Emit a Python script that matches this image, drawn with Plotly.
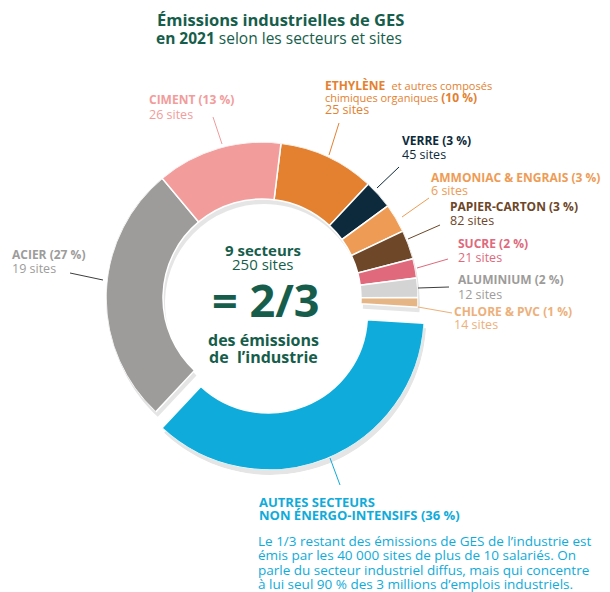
import plotly.graph_objects as go

# page has an 8px body margin, so the figure is drawn 8px in from the corner
W, H = 610, 592
OFF = 8
FW, FH = W - OFF, H - OFF

# data (clockwise from just right of 12 o'clock)
sectors = ["ETHYLÈNE", "VERRE", "AMMONIAC & ENGRAIS", "PAPIER-CARTON", "SUCRE",
           "ALUMINIUM", "CHLORE & PVC", "AUTRES SECTEURS NON ÉNERGO-INTENSIFS",
           "ACIER", "CIMENT"]
shares = [10, 3, 3, 3, 2, 2, 1, 36, 27, 13]
sites = [25, 45, 6, 82, 21, 12, 14, None, 19, 26]
colors = ["#E38131", "#0C2A3B", "#EE9C55", "#6E4628", "#E0697C",
          "#D4D4D4", "#E6B586", "#0FABDA", "#9D9C9A", "#F29C9B"]
text_colors = ["#E38131", "#0C2A3B", "#EE9C55", "#6E4628", "#E0697C",
               "#9D9C9A", "#EDB07A", "#0FABDA", "#9D9C9A", "#F29C9B"]
green = "#165E4B"

# angles
widths = [s * 3.6 for s in shares]
thetas = []
acc = 0
for w in widths:
    thetas.append(acc + w / 2)
    acc += w

R_IN, R_OUT = 99, 156
CX, CY = 262, 298
EXPLODE = (6.4, 16)   # blue slice pulled out


def px(x, y):
    return (x - OFF) / FW, 1 - (y - OFF) / FH


def dom(cx, cy, r):
    x0, y0 = px(cx - r, cy + r)
    x1, y1 = px(cx + r, cy - r)
    return dict(x=[x0, x1], y=[y0, y1])


main = [i for i in range(len(sectors)) if i != 7]
blue = [7]

fig = go.Figure()


def add_ring(idx, subplot, col=None):
    fig.add_trace(go.Barpolar(
        theta=[thetas[i] for i in idx],
        width=[widths[i] for i in idx],
        r=[R_OUT - R_IN for i in idx],
        base=[R_IN for i in idx],
        marker=dict(color=col if col else [colors[i] for i in idx],
                    line=dict(color="white", width=1.5 if col is None else 0)),
        hoverinfo="skip",
        subplot=subplot,
        showlegend=False,
    ))


# soft shadows first, then the slices
add_ring(main, "polar", col="rgba(0,0,0,0.10)")
add_ring(blue, "polar2", col="rgba(0,0,0,0.10)")
add_ring(main, "polar3")
add_ring(blue, "polar4")

polar_common = dict(
    bgcolor="rgba(0,0,0,0)",
    radialaxis=dict(visible=False, range=[0, R_OUT]),
    angularaxis=dict(visible=False, rotation=83, direction="clockwise"),
)
fig.update_layout(
    polar=dict(domain=dom(CX + 2, CY + 5, R_OUT), **polar_common),
    polar2=dict(domain=dom(CX + EXPLODE[0] + 2, CY + EXPLODE[1] + 5, R_OUT), **polar_common),
    polar3=dict(domain=dom(CX, CY, R_OUT), **polar_common),
    polar4=dict(domain=dom(CX + EXPLODE[0], CY + EXPLODE[1], R_OUT), **polar_common),
)

ann = []


def text(x, y, s, size, color, anchor="left"):
    xx, yy = px(x, y)
    ann.append(dict(x=xx, y=yy, xref="paper", yref="paper", text=s, showarrow=False,
                    xanchor=anchor, yanchor="middle", align=anchor, borderpad=0,
                    font=dict(size=size, color=color, family="Open Sans")))


# title
text(280, 20, "<b>Émissions industrielles de GES</b>", 16.5, green, anchor="center")
text(279, 38, "<b>en 2021</b> selon les secteurs et sites", 15.5, green, anchor="center")

# sector labels: index -> (x, y of name line, y of sites line)
label_pos = {9: (148, 100, 114.5), 1: (401, 141, 154.5), 2: (430, 177, 190.5),
             3: (449, 207, 220.5), 4: (457, 243, 257.5), 5: (457, 279, 294),
             6: (453, 311, 324.5), 8: (11, 255, 268.5)}
for i, (x, y1, y2) in label_pos.items():
    text(x, y1, f"<b>{sectors[i]} ({shares[i]} %)</b>", 12, text_colors[i])
    text(x, y2, f"{sites[i]} sites", 12.5, text_colors[i])

text(324, 85, f"<b>{sectors[0]}</b>  <span style='font-size:11px'>et autres composés</span>",
     12, text_colors[0])
text(324, 97, f"<span style='font-size:11px'>chimiques organiques</span> <b>({shares[0]} %)</b>",
     12, text_colors[0])
text(324, 109.5, f"{sites[0]} sites", 12.5, text_colors[0])

text(258, 501.5, "<b>AUTRES SECTEURS</b>", 13, text_colors[7])
text(258, 515.5, f"<b>NON ÉNERGO-INTENSIFS ({shares[7]} %)</b>", 13, text_colors[7])
para = ["Le 1/3 restant des émissions de GES de l’industrie est",
        "émis par les 40 000 sites de plus de 10 salariés. On",
        "parle du secteur industriel diffus, mais qui concentre",
        "à lui seul 90 % des 3 millions d’emplois industriels."]
for k, line in enumerate(para):
    text(257, 541 + k * 14.4, line, 13.5, text_colors[7])

# centre
text(262.5, 249.5, "<b>9 secteurs</b>", 15, green, anchor="center")
text(262.5, 264, "250 sites", 15, green, anchor="center")
text(265, 299, "<b>= 2/3</b>", 45, green, anchor="center")
text(263, 340, "<b>des émissions</b>", 16, green, anchor="center")
text(263, 357, "<b>de  l’industrie</b>", 16, green, anchor="center")

# leader lines
leaders = [(9, 213, 117, 222, 144), (0, 339, 123, 329, 155), (1, 399, 167, 377, 188),
           (2, 429, 198, 402, 217), (3, 440, 225, 408, 239), (4, 448, 259, 417, 268),
           (5, 449, 287, 418, 288), (6, 452, 313, 418, 307), (8, 70, 273, 103, 280),
           (7, 330, 458, 340, 485)]
shapes = []
for i, x0, y0, x1, y1 in leaders:
    a = px(x0, y0)
    b = px(x1, y1)
    c = "#3d3d3d" if i in (5, 8) else text_colors[i]
    shapes.append(dict(type="line", xref="paper", yref="paper", x0=a[0], y0=a[1],
                       x1=b[0], y1=b[1], line=dict(color=c, width=1)))

fig.update_layout(
    width=FW, height=FH,
    margin=dict(l=0, r=0, t=0, b=0),
    paper_bgcolor="white", plot_bgcolor="white",
    annotations=ann, shapes=shapes,
    showlegend=False,
)

fig.write_html("out.html")
